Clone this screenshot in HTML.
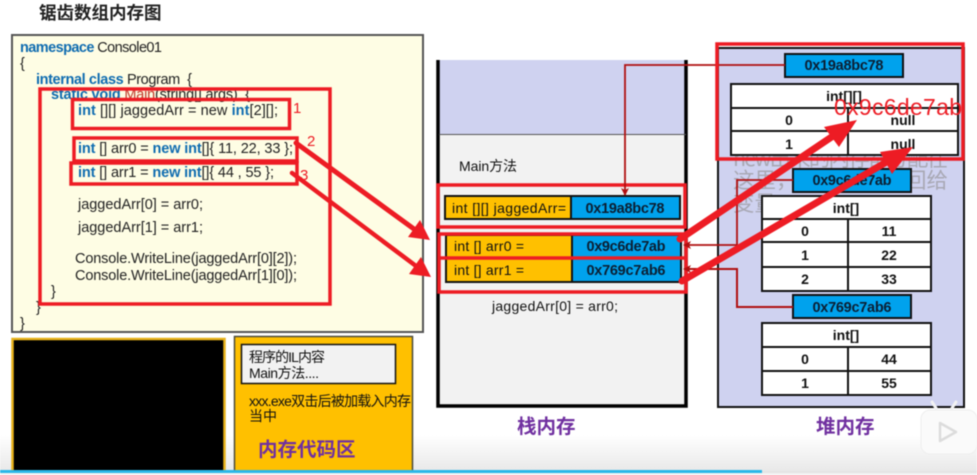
<!DOCTYPE html>
<html><head><meta charset="utf-8"><style>
html,body{margin:0;padding:0;background:#fff;width:977px;height:475px;overflow:hidden}
svg{display:block;font-family:"Liberation Sans","Noto Sans CJK SC",sans-serif;filter:blur(0.4px)}
.c{font-size:14.5px;fill:#222}
.k{fill:#0f6cb0;font-weight:bold}
.m{font-size:14px;fill:#111}
.h{font-size:14px;font-weight:bold;fill:#111;text-anchor:middle}
.b{font-size:14.5px;font-weight:bold;fill:#0b1f33;text-anchor:middle}
.p{font-size:19.5px;font-weight:bold;fill:#7030a0;font-family:"Noto Sans CJK SC",sans-serif}
.f{font-size:21.5px;fill:#a8a8b4;font-family:"Noto Sans CJK SC",sans-serif}
.n{font-size:15px;fill:#ed1c24}
</style></head><body>
<svg width="977" height="475" viewBox="0 0 977 475" xmlns="http://www.w3.org/2000/svg">
<defs>
<linearGradient id="g" x1="0" y1="0" x2="0" y2="1"><stop offset="0" stop-color="#fff"/><stop offset="1" stop-color="#e6e6e6"/></linearGradient>
<marker id="ah" markerWidth="9" markerHeight="9" refX="7" refY="4" orient="auto" markerUnits="userSpaceOnUse"><path d="M0,0 L8,4 L0,8 L2,4 Z" fill="#b01010"/></marker>
</defs>
<rect width="977" height="475" fill="#fff"/>
<rect y="435" width="977" height="40" fill="url(#g)"/>

<text x="39" y="19" font-size="17.5" font-weight="bold" fill="#222" style="font-family:'Noto Sans CJK SC',sans-serif">锯齿数组内存图</text>

<!-- code box -->
<rect x="12" y="35" width="411" height="297" fill="#fefde4" stroke="#555" stroke-width="2"/>
<text class="c" x="20" y="52" textLength="142"><tspan class="k">namespace</tspan> Console01</text>
<text class="c" x="20" y="68">{</text>
<text class="c" x="36" y="84" textLength="156"><tspan class="k">internal class</tspan> Program&#160; {</text>
<text class="c" x="51" y="99" textLength="199"><tspan class="k">static void</tspan> <tspan fill="#c0392b">Main</tspan>(string[] args)&#160; {</text>
<text class="c" x="78" y="115" textLength="200"><tspan class="k">int</tspan> [][] jaggedArr = new <tspan class="k">int</tspan>[2][];</text>
<text class="c" x="78" y="153" textLength="215"><tspan class="k">int</tspan> [] arr0 = <tspan class="k">new int</tspan>[]{ 11, 22, 33 };</text>
<text class="c" x="78" y="177" textLength="196"><tspan class="k">int</tspan> [] arr1 = <tspan class="k">new int</tspan>[]{ 44 , 55 };</text>
<text class="c" x="78" y="209" textLength="125">jaggedArr[0] = arr0;</text>
<text class="c" x="78" y="232" textLength="125">jaggedArr[1] = arr1;</text>
<text class="c" x="75" y="263" textLength="222">Console.WriteLine(jaggedArr[0][2]);</text>
<text class="c" x="75" y="280" textLength="222">Console.WriteLine(jaggedArr[1][0]);</text>
<text class="c" x="51" y="296">}</text>
<text class="c" x="36" y="312">}</text>
<text class="c" x="20" y="328">}</text>

<!-- code red rects -->
<g fill="none" stroke="#ed1c24" stroke-width="3.5">
<rect x="40" y="89" width="290" height="215"/>
<rect x="72.500" y="99.500" width="217" height="29"/>
<rect x="74" y="138" width="223" height="23"/>
<rect x="71" y="163" width="226" height="21"/>
</g>
<text class="n" x="293" y="113">1</text>
<text class="n" x="307" y="146">2</text>
<text class="n" x="300" y="180">3</text>

<!-- black box -->
<rect x="12.500" y="339" width="212" height="140" fill="#000" stroke="#e8b21a" stroke-width="2.500"/>

<!-- orange box -->
<rect x="234.500" y="336.500" width="178" height="140" fill="#ffc000" stroke="#4a4a3a" stroke-width="1.500"/>
<rect x="241.500" y="344.500" width="154" height="39" fill="#f2f2f2" stroke="#111" stroke-width="1.500"/>
<text class="m" x="249" y="362" textLength="76">程序的IL内容</text>
<text class="m" x="249" y="378" textLength="70">Main方法....</text>
<text class="m" x="249" y="406" textLength="162">xxx.exe双击后被加载入内存</text>
<text class="m" x="249" y="421">当中</text>
<text class="p" x="258" y="456">内存代码区</text>

<!-- stack -->
<rect x="438" y="60" width="248" height="346" fill="#f2f2f2"/>
<rect x="438" y="60" width="248" height="74" fill="#cfd2f0"/>
<path d="M438,60 V406 H686 V60" fill="none" stroke="#000" stroke-width="3.500"/>
<path d="M439,134.500 H686" stroke="#555" stroke-width="1"/>
<text class="m" x="459" y="171" textLength="58">Main方法</text>
<text class="m" x="492" y="311" textLength="126">jaggedArr[0] = arr0;</text>

<!-- stack rows -->
<rect x="445" y="196" width="126" height="23" fill="#ffc000" stroke="#111" stroke-width="2"/>
<rect x="571" y="196" width="109" height="23" fill="#00a2ed" stroke="#111" stroke-width="2"/>
<text class="m" x="452" y="213" textLength="114">int [][] jaggedArr=</text>
<text class="b" x="625" y="213" textLength="79">0x19a8bc78</text>
<rect x="446" y="235" width="126" height="47" fill="#ffc000" stroke="#111" stroke-width="2"/>
<rect x="572" y="235" width="109" height="47" fill="#00a2ed" stroke="#111" stroke-width="2"/>
<text class="m" x="454" y="251" textLength="70">int [] arr0 =</text>
<text class="m" x="454" y="275" textLength="70">int [] arr1 =</text>
<text class="b" x="626" y="251" textLength="79">0x9c6de7ab</text>
<text class="b" x="626" y="275" textLength="79">0x769c7ab6</text>

<g fill="none" stroke="#ed1c24" stroke-width="3.500">
<rect x="438" y="185" width="247" height="42"/>
<rect x="439" y="234" width="247" height="58"/>
<path d="M439,258 H686"/>
</g>

<!-- heap -->
<rect x="718" y="48" width="246" height="359" fill="#cfd2f0" stroke="#111" stroke-width="2"/>
<text class="f" x="733" y="166" textLength="215">new出来的内存都分配在</text>
<text class="f" x="733" y="188" textLength="215">这里，并把地址返回给</text>
<text class="f" x="733" y="211">变量</text>

<g stroke="#111" stroke-width="2">
<rect x="785" y="54" width="118" height="23" fill="#00a2ed"/>
<rect x="793" y="169" width="118" height="23" fill="#00a2ed"/>
<rect x="793" y="295" width="118" height="23" fill="#00a2ed"/>
<g fill="#fff">
<rect x="731" y="84" width="227" height="71"/>
<rect x="762" y="196" width="169" height="95"/>
<rect x="762" y="323" width="169" height="72"/>
</g>
<path d="M731,108 H958 M731,131 H958 M848,108 V155" fill="none"/>
<path d="M762,219 H931 M762,242 H931 M762,267 H931 M848,219 V291" fill="none"/>
<path d="M762,347 H931 M762,371 H931 M848,347 V395" fill="none"/>
</g>
<text class="b" x="844" y="70" textLength="79">0x19a8bc78</text>
<text class="b" x="852" y="185" textLength="79">0x9c6de7ab</text>
<text class="b" x="852" y="312" textLength="79">0x769c7ab6</text>
<text class="h" x="844" y="101">int[][]</text>
<text class="h" x="789" y="125">0</text><text class="h" x="903" y="125">null</text>
<text class="h" x="789" y="149">1</text><text class="h" x="903" y="149">null</text>
<text class="h" x="846" y="213">int[]</text>
<text class="h" x="805" y="236">0</text><text class="h" x="889" y="236">11</text>
<text class="h" x="805" y="260">1</text><text class="h" x="889" y="260">22</text>
<text class="h" x="805" y="284">2</text><text class="h" x="889" y="284">33</text>
<text class="h" x="846" y="340">int[]</text>
<text class="h" x="805" y="364">0</text><text class="h" x="889" y="364">44</text>
<text class="h" x="805" y="388">1</text><text class="h" x="889" y="388">55</text>

<!-- dark red connectors -->
<g fill="none" stroke="#b01010" stroke-width="1.800">
<path d="M785,65 H625 V195" marker-end="url(#ah)"/>
<path d="M793,180 H737 V245 H684" marker-end="url(#ah)"/>
<path d="M793,307 H737 V269 H684" stroke-width="2" marker-end="url(#ah)"/>
</g>

<!-- heap highlight -->
<rect x="717" y="44" width="246" height="115" fill="none" stroke="#ed1c24" stroke-width="3.500"/>

<!-- thick arrows -->
<g stroke="#ed1c24" fill="#ed1c24" stroke-linecap="round">
<path d="M296,143 L414,229" stroke-width="5"/>
<path d="M430,240 L408,237 L420,220 Z" stroke="none"/>
<path d="M292,173 L416,266" stroke-width="4.500"/>
<path d="M431,277 L409,274 L421,257 Z" stroke="none"/>
<path d="M680,239 L836,134" stroke-width="7"/>
<path d="M857,120 L839,147 L824,127 Z" stroke="none"/>
<path d="M682,281 L890,160" stroke-width="7"/>
<path d="M913,147 L892,174 L880,152 Z" stroke="none"/>
</g>
<text x="834" y="115" font-size="23" fill="#ed1c24" textLength="128">0x9c6de7ab</text>

<text class="p" x="517" y="433">栈内存</text>
<text class="p" x="816" y="433">堆内存</text>

<!-- play badge -->
<path d="M936,408 L932,402 M952,408 L956,402" stroke="#f2f2f2" stroke-width="3" stroke-linecap="round"/>
<rect x="921" y="410" width="56" height="44" rx="9" fill="#fafafa" stroke="#eeeeee"/>
<path d="M940,423 L956,432 L940,441 Z" fill="#fafafa" stroke="#dcdcdc" stroke-width="2.500" stroke-linejoin="round"/>

<!-- progress bar -->
<rect y="471" width="977" height="4" fill="#e4e4e4"/>
<rect y="470" width="762" height="3" fill="#2bb7e8"/>
<rect y="473" width="977" height="2" fill="#f2f2f2"/>
</svg>
</body></html>
